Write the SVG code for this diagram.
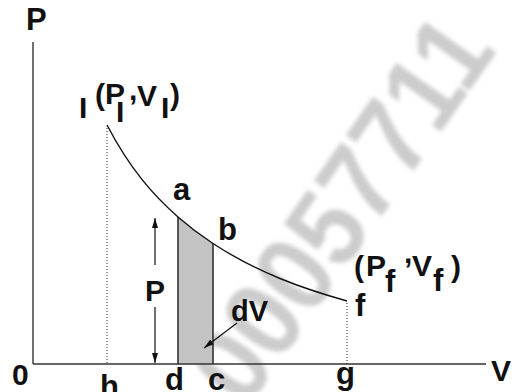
<svg xmlns="http://www.w3.org/2000/svg" width="517" height="392" viewBox="0 0 517 392">
  <style>
    .lbl { font-family: "Liberation Sans", Arial, sans-serif; font-weight: bold; fill: #111; }
    .axis { stroke: #333; stroke-width: 1.4; fill: none; }
    .dot { stroke: #222; stroke-width: 1; stroke-dasharray: 1 2; fill: none; }
    .curve { stroke: #111; stroke-width: 1.4; fill: none; }
    .arr { stroke: #111; stroke-width: 1.2; fill: none; marker-end: url(#ah); }
    .wm { font-family: "Liberation Sans", Arial, sans-serif; font-weight: bold; fill: #a3a3a3; }
  </style>
  <defs>
    <marker id="ah" viewBox="0 0 10 6" refX="10" refY="3" markerWidth="10" markerHeight="6" markerUnits="userSpaceOnUse" orient="auto">
      <path d="M0,0 L10,3 L0,6 z" fill="#111"/>
    </marker>
    <filter id="soft" x="-10%" y="-10%" width="120%" height="120%">
      <feGaussianBlur stdDeviation="2"/>
    </filter>
  </defs>
  <rect width="517" height="392" fill="#fff"/>

  <g id="watermark" opacity="0.55" filter="url(#soft)">
    <text class="wm" font-size="100" transform="translate(246,410) rotate(-55) scale(1,1.1)">00057711</text>
  </g>

  <g id="area">
    <path d="M178,217 C189.67,227.24 201.33,235.87 213,243.5 L213,364 L178,364 Z" fill="#c3c3c3" stroke="none"/>
    <line x1="178" y1="217" x2="178" y2="364" stroke="#333" stroke-width="1.6"/>
    <line x1="213" y1="243.5" x2="213" y2="364" stroke="#333" stroke-width="1.6"/>
  </g>

  <g id="axes">
    <line class="axis" x1="33" y1="42" x2="33" y2="364"/>
    <line class="axis" x1="33" y1="364" x2="486" y2="364"/>
    <text class="lbl" x="26" y="30" font-size="31">P</text>
    <text class="lbl" x="491" y="381" font-size="30">V</text>
    <text class="lbl" x="12" y="385" font-size="30">0</text>
  </g>

  <g id="connectors">
    <line class="dot" x1="107" y1="128" x2="107" y2="364"/>
    <line class="dot" x1="347" y1="303" x2="347" y2="364"/>
    <path class="curve" d="M107,125 C130.67,170.25 154.33,196.22 178,217 C189.67,227.24 201.33,235.87 213,243.5 C257.67,272.71 302.33,288.45 347,301"/>
    <line class="arr" x1="155" y1="265" x2="155" y2="218"/>
    <line class="arr" x1="155" y1="307" x2="155" y2="363"/>
    <line class="arr" x1="237" y1="323" x2="204" y2="348"/>
  </g>

  <g id="point-i">
    <text class="lbl" x="79" y="118" font-size="30">I</text>
    <text class="lbl" x="95" y="105" font-size="30">(</text>
    <text class="lbl" x="105" y="104" font-size="30">P</text>
    <text class="lbl" x="116" y="122" font-size="30">I</text>
    <text class="lbl" x="129" y="100" font-size="30">,</text>
    <text class="lbl" x="137" y="106" font-size="30">V</text>
    <text class="lbl" x="161" y="118" font-size="30">I</text>
    <text class="lbl" x="170" y="105" font-size="30">)</text>
  </g>

  <g id="point-a"><text class="lbl" x="173" y="200" font-size="31">a</text></g>
  <g id="point-b"><text class="lbl" x="218" y="240" font-size="31">b</text></g>
  <g id="label-P"><text class="lbl" x="145" y="301" font-size="30">P</text></g>
  <g id="label-dV"><text class="lbl" x="231" y="321" font-size="29">dV</text></g>
  <g id="point-f">
    <text class="lbl" x="355" y="316" font-size="31">f</text>
    <text class="lbl" x="354" y="277" font-size="30">(</text>
    <text class="lbl" x="366" y="276" font-size="30">P</text>
    <text class="lbl" x="385" y="292" font-size="31">f</text>
    <text class="lbl" x="404" y="263" font-size="30">,</text>
    <text class="lbl" x="412" y="276" font-size="30">V</text>
    <text class="lbl" x="433" y="291" font-size="31">f</text>
    <text class="lbl" x="451" y="277" font-size="30">)</text>
  </g>
  <g id="ticks">
    <text class="lbl" x="100" y="397" font-size="31">h</text>
    <text class="lbl" x="165" y="390" font-size="31">d</text>
    <text class="lbl" x="208" y="390" font-size="31">c</text>
    <text class="lbl" x="336" y="384" font-size="31">g</text>
  </g>
</svg>
